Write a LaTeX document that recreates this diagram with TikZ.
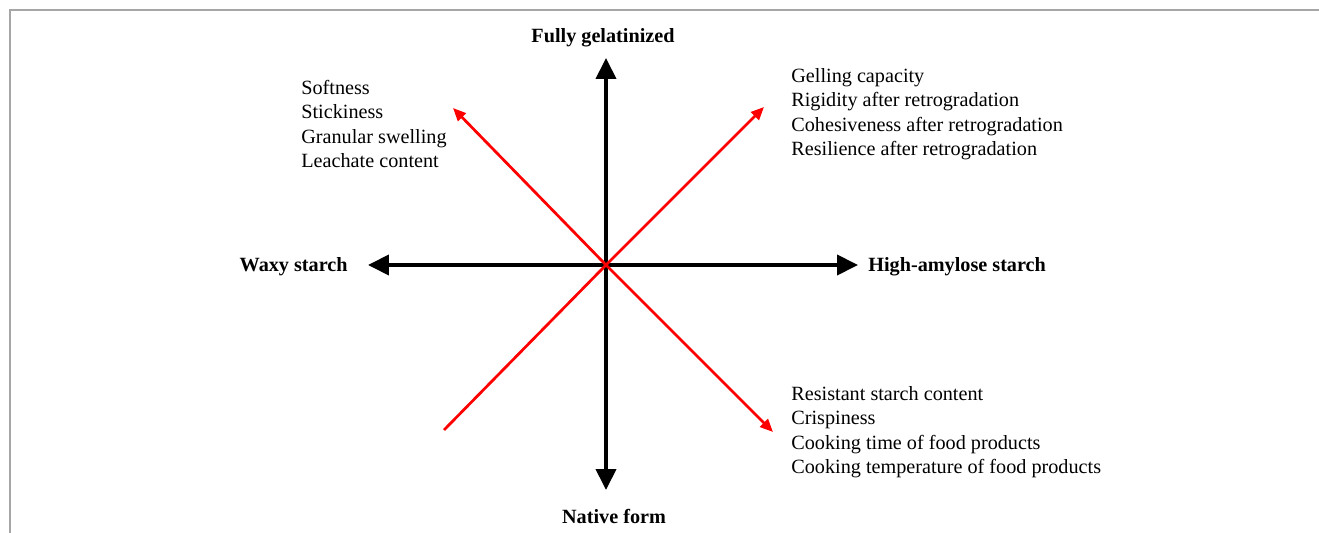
\documentclass[tikz,border=0pt]{standalone}
\usepackage{fontspec}
\setmainfont{Liberation Serif}
\usetikzlibrary{arrows.meta}

\tikzset{
	axis/.style={line width=0.08cm,-{Triangle[length=0.42cm,width=0.4cm]}},
	trait/.style={red,line width=0.055cm,-{Triangle[length=0.26cm,width=0.22cm]}},
	pole/.style={font=\fontsize{11.5}{13.9}\selectfont\bfseries,inner sep=0pt},
	props/.style={font=\fontsize{11.5}{13.9}\selectfont,align=left,inner sep=0pt,anchor=west}
}

\begin{document}
\begin{tikzpicture}[x=0.02cm,y=-0.02cm]
		\useasboundingbox (0,0) rectangle (1319,533);
		\draw [gray!70,line width=0.03cm] (10,533) -- (10,10) -- (1319,10);

		\coordinate (o) at (606,265);
		\coordinate (n) at (606,58);
		\coordinate (s) at (606,490);
		\coordinate (w) at (368,265);
		\coordinate (e) at (858,265);
		\coordinate (nw) at (453,108);
		\coordinate (ne) at (764,107);
		\coordinate (se) at (773,432);
		\coordinate (sw) at (444,430);

		\draw [axis] (o) -- (n);
		\draw [axis] (o) -- (s);
		\draw [axis] (o) -- (w);
		\draw [axis] (o) -- (e);
		\draw [trait] (o) -- (nw);
		\draw [trait] (o) -- (ne);
		\draw [trait] (o) -- (se);
		\draw [red,line width=0.055cm] (o) -- (sw);

		\node [pole] (gel) at (603,38) {Fully gelatinized};
		\node [pole] (nat) at (614,516) {Native form};
		\node [pole,anchor=east] (waxy) at (348,267) {Waxy starch};
		\node [pole,anchor=west] (high) at (868,267) {High-amylose starch};

		\node [props] (soft) at (301,124) {Softness\\Stickiness\\Granular swelling\\Leachate content};
		\node [props] (gelling) at (791,114) {Gelling capacity\\Rigidity after retrogradation\\Cohesiveness after retrogradation\\Resilience after retrogradation};
		\node [props] (resist) at (791,432) {Resistant starch content\\Crispiness\\Cooking time of food products\\Cooking temperature of food products};
	\end{tikzpicture}
\end{document}
